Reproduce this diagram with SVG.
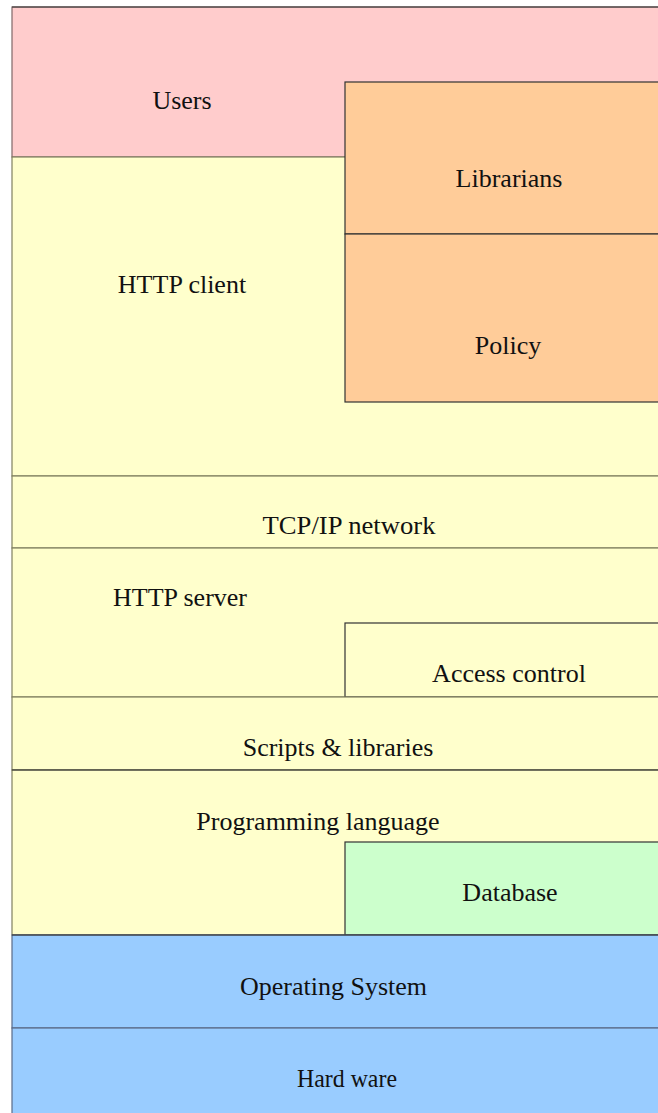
<svg xmlns="http://www.w3.org/2000/svg" width="658" height="1113" viewBox="0 0 658 1113">
<style>
text{font-family:"Liberation Serif","Times New Roman",serif;font-size:26px;fill:#111;text-anchor:middle}
.pink{fill:#ffcccc;stroke:#806868;stroke-width:1.2}
.yel{fill:#ffffcc;stroke:#808060;stroke-width:1.2}
.org{fill:#ffcc99;stroke:#333;stroke-width:1.2}
.yelb{fill:#ffffcc;stroke:#333;stroke-width:1.2}
.grn{fill:#ccffcc;stroke:#333;stroke-width:1.2}
.blu{fill:#99ccff;stroke:#5a6a88;stroke-width:1.2}
</style>
<rect width="658" height="1113" fill="#ffffff"/>
<g id="users"><rect class="pink" x="12" y="7" width="700" height="150"/><line x1="12" y1="7" x2="700" y2="7" stroke="#333" stroke-width="1.2"/><text x="182" y="109">Users</text></g>
<g id="http-client"><rect class="yel" x="12" y="157" width="700" height="319"/><text x="182" y="293">HTTP client</text></g>
<g id="librarians"><rect class="org" x="345" y="82" width="360" height="152"/><text x="509" y="187">Librarians</text></g>
<g id="policy"><rect class="org" x="345" y="234" width="360" height="168"/><text x="508" y="354">Policy</text></g>
<g id="tcpip"><rect class="yel" x="12" y="476" width="700" height="72"/><text x="349" y="534" textLength="173" lengthAdjust="spacingAndGlyphs">TCP/IP network</text></g>
<g id="http-server"><rect class="yel" x="12" y="548" width="700" height="149"/><text x="180" y="606">HTTP server</text></g>
<g id="access-control"><rect class="yelb" x="345" y="623" width="360" height="74"/><text x="509" y="682">Access control</text></g>
<g id="scripts"><rect class="yel" x="12" y="697" width="700" height="73"/><text x="338" y="756">Scripts &amp; libraries</text></g>
<g id="programming"><rect class="yel" x="12" y="770" width="700" height="165"/><line x1="12" y1="770" x2="700" y2="770" stroke="#333" stroke-width="1.2"/><text x="318" y="830">Programming language</text></g>
<g id="database"><rect class="grn" x="345" y="842" width="360" height="93"/><text x="510" y="901">Database</text></g>
<g id="os"><rect class="blu" x="12" y="935" width="700" height="93"/><line x1="12" y1="935" x2="700" y2="935" stroke="#333" stroke-width="1.2"/><text x="333.5" y="995" textLength="187" lengthAdjust="spacingAndGlyphs">Operating System</text></g>
<g id="hardware"><rect class="blu" x="12" y="1028" width="700" height="100"/><text x="347" y="1087" textLength="100" lengthAdjust="spacingAndGlyphs">Hard ware</text></g>
<g id="connectors"></g>
</svg>
